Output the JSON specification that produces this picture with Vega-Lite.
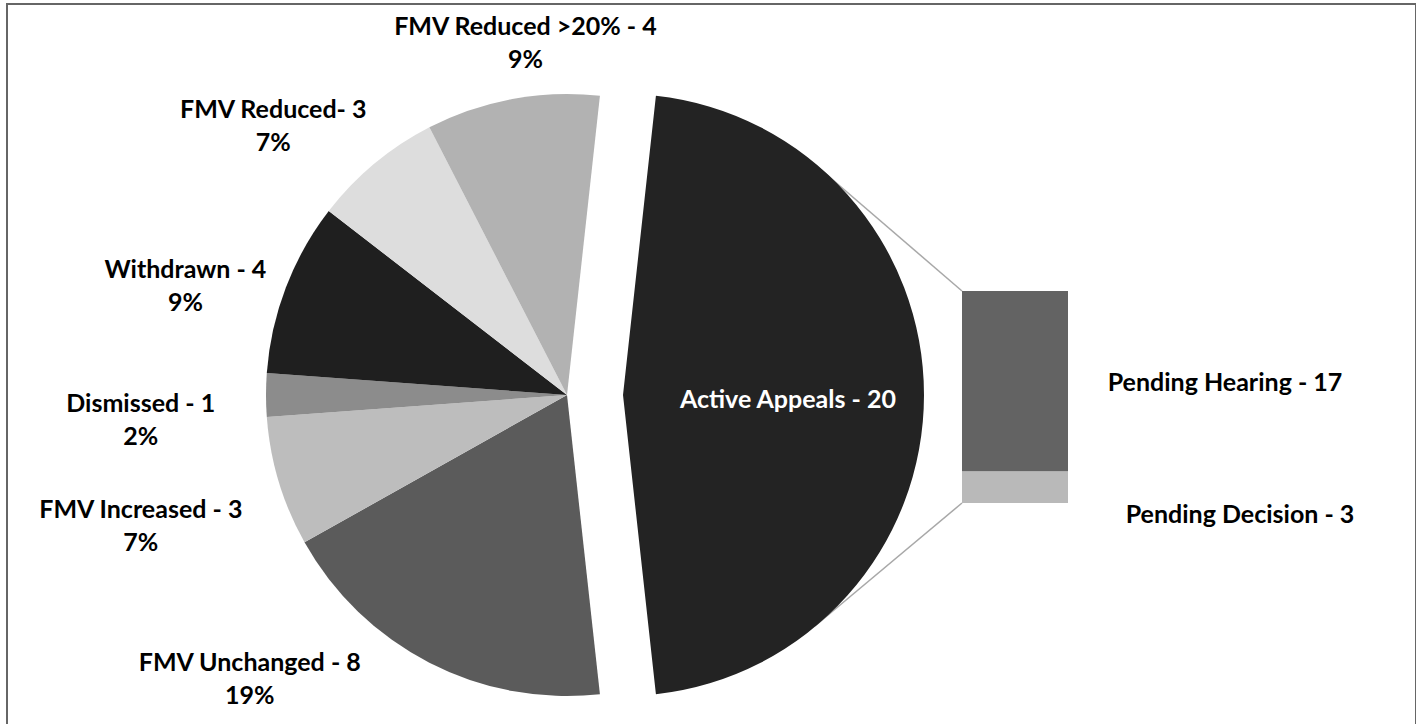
{
  "$schema": "https://vega.github.io/schema/vega-lite/v6.json",
  "width": 1409,
  "height": 730,
  "autosize": {"type": "none"},
  "padding": {"left": 7, "top": 4, "right": 0, "bottom": 0},
  "background": "white",
  "config": {"view": {"stroke": "#666666", "strokeWidth": 2}},
  "datasets": {
    "outcomes": [
      {"category": "Active Appeals", "label": "Active Appeals - 20", "count": 20, "pct": "47%", "order": 1},
      {"category": "FMV Unchanged", "label": "FMV Unchanged - 8", "count": 8, "pct": "19%", "order": 2},
      {"category": "FMV Increased", "label": "FMV Increased - 3", "count": 3, "pct": "7%", "order": 3},
      {"category": "Dismissed", "label": "Dismissed - 1", "count": 1, "pct": "2%", "order": 4},
      {"category": "Withdrawn", "label": "Withdrawn - 4", "count": 4, "pct": "9%", "order": 5},
      {"category": "FMV Reduced", "label": "FMV Reduced- 3", "count": 3, "pct": "7%", "order": 6},
      {"category": "FMV Reduced >20%", "label": "FMV Reduced >20% - 4", "count": 4, "pct": "9%", "order": 7}
    ],
    "breakdown": [
      {"status": "Pending Decision", "label": "Pending Decision - 3", "count": 3, "order": 1},
      {"status": "Pending Hearing", "label": "Pending Hearing - 17", "count": 17, "order": 2}
    ]
  },
  "data": {"name": "outcomes"},
  "transform": [{"calculate": "datum.label + '\\n' + datum.pct", "as": "txt"}],
  "layer": [
    {
      "data": {"values": [{"connector": "top"}]},
      "mark": {"type": "rule", "color": "#a8a8a8", "strokeWidth": 1.5},
      "encoding": {"x": {"value": 812}, "y": {"value": 164}, "x2": {"value": 955}, "y2": {"value": 287}}
    },
    {
      "data": {"values": [{"connector": "bottom"}]},
      "mark": {"type": "rule", "color": "#a8a8a8", "strokeWidth": 1.5},
      "encoding": {"x": {"value": 808}, "y": {"value": 622}, "x2": {"value": 955}, "y2": {"value": 499}}
    },
    {
      "mark": {"type": "arc", "radius": 301, "x": 560, "y": 391},
      "encoding": {
        "theta": {"field": "count", "type": "quantitative", "stack": true, "scale": {"range": [0.1096, 6.3928]}},
        "order": {"field": "order", "type": "quantitative"},
        "color": {
          "field": "category", "type": "nominal", "legend": null,
          "scale": {
            "domain": ["Active Appeals", "FMV Unchanged", "FMV Increased", "Dismissed", "Withdrawn", "FMV Reduced", "FMV Reduced >20%"],
            "range": ["#232323", "#5b5b5b", "#bdbdbd", "#8c8c8c", "#1f1f1f", "#dddddd", "#b2b2b2"]
          }
        },
        "opacity": {"condition": {"test": "datum.category === 'Active Appeals'", "value": 0}, "value": 1}
      }
    },
    {
      "mark": {"type": "arc", "radius": 301, "x": 616, "y": 391},
      "encoding": {
        "theta": {"field": "count", "type": "quantitative", "stack": true, "scale": {"range": [0.1096, 6.3928]}},
        "order": {"field": "order", "type": "quantitative"},
        "color": {"field": "category", "type": "nominal", "legend": null},
        "opacity": {"condition": {"test": "datum.category === 'Active Appeals'", "value": 1}, "value": 0}
      }
    },
    {
      "data": {"name": "breakdown"},
      "transform": [{"stack": "count", "groupby": [], "sort": [{"field": "order"}], "as": ["lo", "hi"]}],
      "mark": {"type": "bar", "orient": "vertical"},
      "encoding": {
        "x": {"value": 955},
        "x2": {"value": 1061},
        "y": {"field": "lo", "type": "quantitative", "axis": null, "scale": {"domain": [-21.79, 47.08], "nice": false, "zero": false}},
        "y2": {"field": "hi"},
        "color": {"condition": {"test": "datum.status === 'Pending Hearing'", "value": "#636363"}, "value": "#b9b9b9"}
      }
    },
    {
      "data": {"name": "breakdown"},
      "transform": [{"stack": "count", "groupby": [], "sort": [{"field": "order"}], "as": ["lo", "hi"]}],
      "mark": {"type": "text", "font": "Lato", "fontWeight": "bold", "fontSize": 25, "align": "center", "baseline": "middle", "color": "#000000", "dy": 92},
      "encoding": {
        "x": {"value": 1218},
        "y": {"field": "hi", "type": "quantitative"},
        "text": {"condition": {"test": "datum.status !== 'Pending Hearing'", "value": ""}, "field": "label"}
      }
    },
    {
      "data": {"name": "breakdown"},
      "transform": [{"stack": "count", "groupby": [], "sort": [{"field": "order"}], "as": ["lo", "hi"]}],
      "mark": {"type": "text", "font": "Lato", "fontWeight": "bold", "fontSize": 25, "align": "center", "baseline": "middle", "color": "#000000", "dy": 44},
      "encoding": {
        "x": {"value": 1233},
        "y": {"field": "hi", "type": "quantitative"},
        "text": {"condition": {"test": "datum.status !== 'Pending Decision'", "value": ""}, "field": "label"}
      }
    },
    {
      "mark": {"type": "text", "font": "Lato", "fontWeight": "bold", "fontSize": 25, "align": "center", "baseline": "middle", "color": "#ffffff", "radius": 165, "thetaOffset": 0.03, "x": 616, "y": 391},
      "encoding": {
        "theta": {"field": "count", "type": "quantitative", "stack": true},
        "order": {"field": "order", "type": "quantitative"},
        "text": {"condition": {"test": "datum.category !== 'Active Appeals'", "value": ""}, "field": "label"}
      }
    },
    {
      "mark": {"type": "text", "font": "Lato", "fontWeight": "bold", "fontSize": 25, "lineBreak": "\n", "lineHeight": 33, "align": "center", "baseline": "middle", "color": "#000000", "dy": -16, "radius": 354, "thetaOffset": 0.065, "x": 560, "y": 391},
      "encoding": {
        "theta": {"field": "count", "type": "quantitative", "stack": true},
        "order": {"field": "order", "type": "quantitative"},
        "text": {"condition": {"test": "datum.category !== 'FMV Reduced >20%'", "value": ""}, "field": "txt"}
      }
    },
    {
      "mark": {"type": "text", "font": "Lato", "fontWeight": "bold", "fontSize": 25, "lineBreak": "\n", "lineHeight": 33, "align": "center", "baseline": "middle", "color": "#000000", "dy": -16, "radius": 398, "thetaOffset": -0.136, "x": 560, "y": 391},
      "encoding": {
        "theta": {"field": "count", "type": "quantitative", "stack": true},
        "order": {"field": "order", "type": "quantitative"},
        "text": {"condition": {"test": "datum.category !== 'FMV Reduced'", "value": ""}, "field": "txt"}
      }
    },
    {
      "mark": {"type": "text", "font": "Lato", "fontWeight": "bold", "fontSize": 25, "lineBreak": "\n", "lineHeight": 33, "align": "center", "baseline": "middle", "color": "#000000", "dy": -16, "radius": 397, "thetaOffset": -0.086, "x": 560, "y": 391},
      "encoding": {
        "theta": {"field": "count", "type": "quantitative", "stack": true},
        "order": {"field": "order", "type": "quantitative"},
        "text": {"condition": {"test": "datum.category !== 'Withdrawn'", "value": ""}, "field": "txt"}
      }
    },
    {
      "mark": {"type": "text", "font": "Lato", "fontWeight": "bold", "fontSize": 25, "lineBreak": "\n", "lineHeight": 33, "align": "center", "baseline": "middle", "color": "#000000", "dy": -16, "radius": 427, "thetaOffset": -0.059, "x": 560, "y": 391},
      "encoding": {
        "theta": {"field": "count", "type": "quantitative", "stack": true},
        "order": {"field": "order", "type": "quantitative"},
        "text": {"condition": {"test": "datum.category !== 'Dismissed'", "value": ""}, "field": "txt"}
      }
    },
    {
      "mark": {"type": "text", "font": "Lato", "fontWeight": "bold", "fontSize": 25, "lineBreak": "\n", "lineHeight": 33, "align": "center", "baseline": "middle", "color": "#000000", "dy": -16, "radius": 446, "thetaOffset": -0.007, "x": 560, "y": 391},
      "encoding": {
        "theta": {"field": "count", "type": "quantitative", "stack": true},
        "order": {"field": "order", "type": "quantitative"},
        "text": {"condition": {"test": "datum.category !== 'FMV Increased'", "value": ""}, "field": "txt"}
      }
    },
    {
      "mark": {"type": "text", "font": "Lato", "fontWeight": "bold", "fontSize": 25, "lineBreak": "\n", "lineHeight": 33, "align": "center", "baseline": "middle", "color": "#000000", "dy": -16, "radius": 426, "thetaOffset": 0.365, "x": 560, "y": 391},
      "encoding": {
        "theta": {"field": "count", "type": "quantitative", "stack": true},
        "order": {"field": "order", "type": "quantitative"},
        "text": {"condition": {"test": "datum.category !== 'FMV Unchanged'", "value": ""}, "field": "txt"}
      }
    }
  ]
}
